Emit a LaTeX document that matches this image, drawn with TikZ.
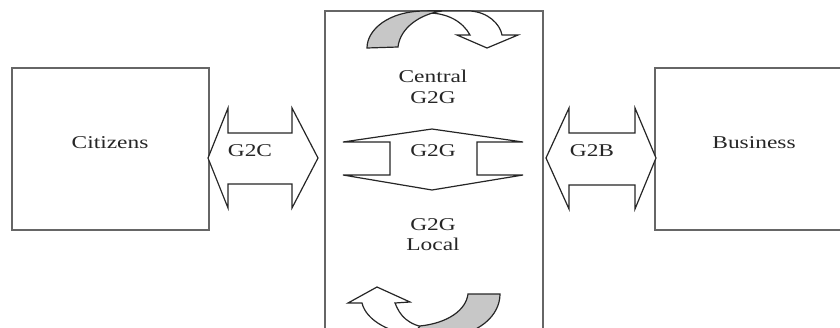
\documentclass[tikz,border=0pt]{standalone}
\usepackage{fontspec}
\setmainfont{Liberation Serif}[FakeStretch=1.3]
\definecolor{boxline}{gray}{0.4}
\definecolor{ribbon}{gray}{0.78}
\begin{document}
\begin{tikzpicture}[x=0.5pt,y=-0.5pt,
  box/.style={draw=boxline, line width=1pt, inner sep=0pt},
  sidebox/.style={box, minimum width=98.5pt, minimum height=81pt},
  blockarrow/.style={draw=black!85, line width=0.6pt, fill=white, line join=miter},
  shaded/.style={blockarrow, fill=ribbon},
  lbl/.style={font=\fontsize{9pt}{10.2pt}\selectfont, text=black!85, align=center, inner sep=0pt}]
\useasboundingbox (0,0) rectangle (840,327);
\clip (0,0) rectangle (840,327);

% the three actors
\node[sidebox] (citizens) at (110.5,149) {};
\node[sidebox] (business) at (753.5,149) {};
\node[box, minimum width=109pt, minimum height=164.5pt] (gov) at (434,175.5) {};

% G2C and G2B double block arrows
\draw[blockarrow] (208,158) -- (228,108) -- (228,133) -- (292,133) -- (292,108) -- (318,158)
  -- (292,208) -- (292,184) -- (228,184) -- (228,208) -- cycle;
\draw[blockarrow] (546,158) -- (569,108) -- (569,133) -- (635,133) -- (635,108) -- (656,158)
  -- (635,209) -- (635,185) -- (569,185) -- (569,209) -- cycle;

% vertical G2G double arrow
\draw[blockarrow] (432,129) -- (523,142) -- (477,142) -- (477,175) -- (523,175) -- (432,190)
  -- (343,175) -- (390,175) -- (390,142) -- (343,142) -- cycle;

% curved arrow at the top (central level)
\draw[blockarrow] (428,11) -- (470,11) .. controls (488,12) and (500,24) .. (502,35)
  -- (518,35) -- (487,48) -- (457,35) -- (470,35)
  .. controls (463,22) and (448,13) .. (428,13) -- cycle;
\draw[shaded] (367,48) .. controls (367,30) and (388,11) .. (425,11) -- (442,11)
  .. controls (420,14) and (400,28) .. (398,47) -- cycle;

% curved arrow at the bottom (local level)
\draw[blockarrow] (445,336) -- (425,336) .. controls (390,335) and (366,320) .. (362,303)
  -- (348,303) -- (377,287) -- (410,302) -- (395,303)
  .. controls (400,316) and (408,325) .. (428,328) -- cycle;
\draw[shaded] (500,294) .. controls (500,315) and (480,335) .. (442,338) -- (410,338)
  -- (420,326) .. controls (448,323) and (466,310) .. (468,294) -- cycle;

% labels
\node[lbl] (tcit) at (110,143) {Citizens};
\node[lbl] (tbus) at (754,143) {Business};
\node[lbl] (tg2c) at (250,151) {G2C};
\node[lbl] (tg2b) at (592,151) {G2B};
\node[lbl] (tg2g) at (433,151) {G2G};
\node[lbl] (tcentral) at (433,87) {Central\\G2G};
\node[lbl] (tlocal) at (433,234.5) {G2G\\Local};
\end{tikzpicture}
\end{document}
